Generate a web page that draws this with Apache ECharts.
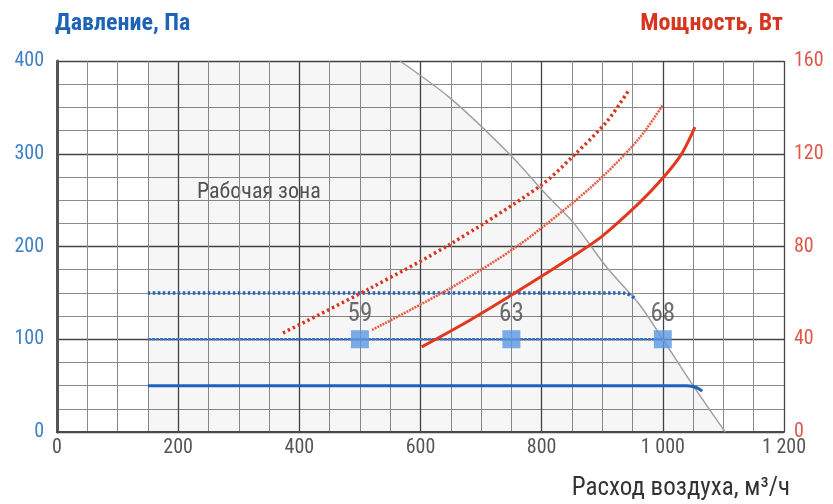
<!DOCTYPE html>
<html><head><meta charset="utf-8">
<script src="https://cdn.jsdelivr.net/npm/echarts@6/dist/echarts.min.js"></script>
<style>html,body{margin:0;padding:0;background:#fff}#c{width:833px;height:504px}</style>
</head><body><div id="c"></div>
<script>
// Pressure curves (x = air flow m3/h, y = Pa)
const pressureHigh = [[150,150],[930,150],[945,148],[955,143]];
const pressureMid = [[150,100],[1000,100]];
const pressureLow = [[150,50],[1040,50],[1055,48],[1065,44]];
// Network limit curve
const limitCurve = [[566,400],[649,360],[748,299],[809,255],[852,226],[908,177],[962,137],[1000,100],[1050,50],[1103,0]];
const workZone = [[150,400],[566,400],[649,360],[748,299],[809,255],[852,226],[908,177],[962,137],[1000,100],[1050,50],[1103,0]];
// Power curves (W)
const powerHigh = [[373,42.7],[517,62],[649,81],[797,106],[852,119],[908,134],[944,147.5]];
const powerMid = [[520,44],[649,62],[759,80],[852,99],[908,112],[962,127],[1000,141]];
const powerLow = [[602,36.7],[680,48],[753,59.5],[847,75],[900,84.5],[962,99],[1000,109.5],[1030,119.5],[1053,131.5]];
// Noise markers
const noisePoints = [[500,100],[750,100],[1000,100]];
const noiseLabels = ['59','63','68'];

const FONT = '"Liberation Sans Narrow","Roboto Condensed","Liberation Sans",sans-serif';
const chart = echarts.init(document.getElementById('c'));
chart.setOption({
  animation:false,
  backgroundColor:'#fff',
  grid:{left:57,right:49,top:61,bottom:72},
  xAxis:{type:'value',min:0,max:1200,interval:200,
    axisLine:{show:true,onZero:false,lineStyle:{color:'#4a4a4a',width:2}},
    axisTick:{show:false},
    axisLabel:{color:'#555',fontSize:20,fontFamily:FONT,margin:6,
      formatter:v=>v>=1000?(String(Math.floor(v/1000))+' '+String(v%1000).padStart(3,'0')):String(v)},
    splitLine:{show:true,lineStyle:{color:'#444',width:1.3}},
    minorTick:{show:false,splitNumber:4},
    minorSplitLine:{show:true,lineStyle:{color:'#8a8a8a',width:1}}
  },
  yAxis:[
    {type:'value',min:0,max:400,interval:100,
      axisLine:{show:true,lineStyle:{color:'#555',width:3}},
      axisTick:{show:false},
      axisLabel:{color:'#3f7fc6',fontSize:20,fontFamily:FONT,margin:13},
      splitLine:{show:true,lineStyle:{color:'#444',width:1.3}},
      minorTick:{show:false,splitNumber:4},
      minorSplitLine:{show:true,lineStyle:{color:'#8a8a8a',width:1}}
    },
    {type:'value',min:0,max:160,interval:40,position:'right',
      axisLine:{show:false},axisTick:{show:false},
      axisLabel:{color:'#e0574a',fontSize:20,fontFamily:FONT,margin:10},
      splitLine:{show:false}
    }
  ],
  graphic:[
    {type:'text',left:55,top:12,style:{text:'Давление, Па',fill:'#1e64b6',font:'bold 24px '+FONT}},
    {type:'text',right:50,top:12,style:{text:'Мощность, Вт',fill:'#d6361f',font:'bold 24px '+FONT}},
    {type:'text',right:43,top:476,style:{text:'Расход воздуха, м³/ч',fill:'#333',font:'25px '+FONT}},
    {type:'text',left:197,top:181,style:{text:'Рабочая зона',fill:'#555',font:'22px '+FONT}}
  ],
  series:[
    {type:'line',data:workZone,symbol:'none',lineStyle:{width:0},areaStyle:{color:'rgba(0,0,0,0.05)',origin:'start'},z:1,silent:true},
    {type:'line',data:limitCurve,symbol:'none',smooth:0.3,lineStyle:{color:'#a0a0a0',width:1.5},z:2},
    {type:'line',data:pressureLow,symbol:'none',smooth:0.4,lineStyle:{color:'#1f62be',width:3},z:4},
    {type:'line',data:pressureMid,symbol:'none',lineStyle:{color:'#3a78c8',width:2.5,type:[3,1]},z:4},
    {type:'line',data:pressureHigh,symbol:'none',smooth:0.4,lineStyle:{color:'#2563b8',width:3.5,type:[2.5,2.5]},z:4},
    {type:'line',yAxisIndex:1,data:powerLow,symbol:'none',smooth:0.3,lineStyle:{color:'#e2391c',width:3},z:5},
    {type:'line',yAxisIndex:1,data:powerMid,symbol:'none',smooth:0.3,lineStyle:{color:'#ea5a40',width:2.5,type:[2,1]},z:5},
    {type:'line',yAxisIndex:1,data:powerHigh,symbol:'none',smooth:0.3,lineStyle:{color:'#d9341c',width:3.5,type:[2.5,3]},z:5},
    {type:'scatter',data:noisePoints.map((p,i)=>({value:p,label:{formatter:noiseLabels[i]}})),
      symbol:'rect',symbolSize:18,itemStyle:{color:'#5c98e2'},z:6,
      label:{show:true,position:'top',distance:3,color:'#4a4a4a',fontSize:25,fontFamily:FONT}}
  ]
});
</script></body></html>
